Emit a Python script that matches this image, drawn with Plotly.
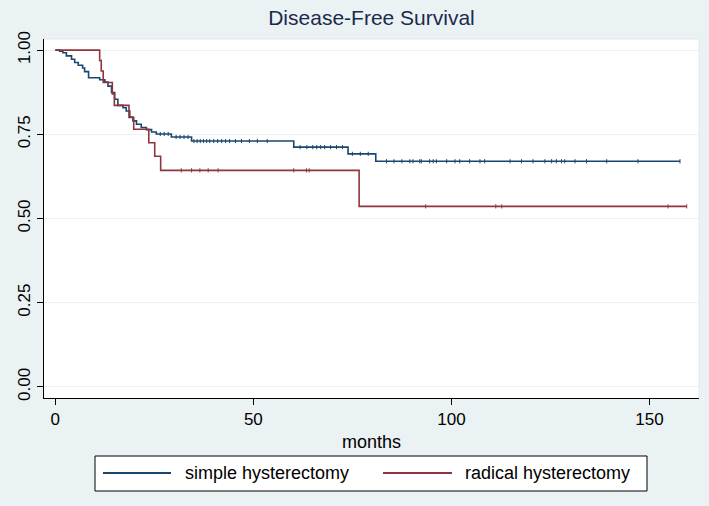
# -*- coding: utf-8 -*-
"""
Kaplan-Meier style disease-free survival plot (simple vs radical hysterectomy).
"""

import numpy as np
import plotly.graph_objects as go

# ---- data ----
simple_event_months = [1.1, 1.9, 2.8, 4.1, 4.9, 5.8, 6.9, 7.4, 8.4, 11.2,
                       12.5, 13.3, 14.2, 15.0, 15.8, 17.1, 17.9, 18.8, 19.6, 20.5,
                       21.7, 23.0, 24.3, 25.5, 29.3, 34.4, 60.2, 73.9, 80.9]
simple_survival = [0.997, 0.992, 0.983, 0.973, 0.963, 0.955, 0.947, 0.936, 0.918, 0.912,
                   0.905, 0.893, 0.874, 0.854, 0.836, 0.829, 0.819, 0.801, 0.790, 0.780,
                   0.770, 0.764, 0.757, 0.751, 0.742, 0.730, 0.712, 0.692, 0.670]
simple_last_month = 157.7
simple_censored = [26.5, 27.5, 28.5, 30.5, 31.5, 32.5, 33.5,
                   35.0, 35.8, 36.6, 37.4, 38.2, 39.0, 40.0, 41.0, 42.0, 43.0, 44.0,
                   45.5, 47.0, 49.0, 51.0, 53.5,
                   61.8, 63.5, 65.0, 66.0, 67.0, 68.0, 69.5, 71.0, 72.5,
                   75.0, 77.0, 79.0,
                   83.6, 85.5, 87.5, 89.5, 90.3, 92.0, 92.4, 94.5, 95.4, 96.2, 98.8,
                   100.9, 102.1, 104.6, 107.2, 108.4, 114.8, 117.7, 120.6, 123.6,
                   125.3, 126.5, 127.8, 128.6, 131.2, 134.1, 139.2, 147.1, 157.7]

radical_event_months = [11.2, 11.6, 12.1, 14.4, 14.9, 18.6, 19.8, 23.6, 25.1, 26.6, 76.7]
radical_survival = [0.969, 0.938, 0.904, 0.870, 0.836, 0.800, 0.765, 0.725, 0.685, 0.643, 0.536]
radical_last_month = 159.4
radical_censored = [31.8, 34.4, 36.5, 38.6, 41.1, 60.2, 63.4, 64.1,
                    93.5, 111.2, 112.7, 154.7, 159.4]

y_ticks = [0, 0.25, 0.5, 0.75, 1.0]
y_tick_labels = ["0.00", "0.25", "0.50", "0.75", "1.00"]
x_ticks = [0, 50, 100, 150]

BLUE = "#1a476f"
RED = "#90353b"
BG = "#eaf2f3"
FONT = "Liberation Sans, Arial, sans-serif"


def step_curve(months, surv, last):
    x = [0] + list(months) + [last]
    y = [1.0] + list(surv) + [surv[-1]]
    return x, y


def survival_at(months, surv, t):
    # value of the step function at each censoring time
    idx = np.searchsorted(np.array(months), np.array(t), side="right")
    vals = np.concatenate([[1.0], surv])
    return vals[idx]


def add_group(fig, months, surv, last, censored, color, name):
    x, y = step_curve(months, surv, last)
    fig.add_trace(go.Scatter(
        x=x, y=y, mode="lines", line=dict(color=color, width=1.6, shape="hv"),
        name=name, showlegend=False, hoverinfo="skip"))
    fig.add_trace(go.Scatter(
        x=censored, y=survival_at(months, surv, censored), mode="markers",
        marker=dict(symbol="line-ns", size=3, line=dict(color=color, width=1)),
        showlegend=False, hoverinfo="skip"))


def px_x(p):
    # pixel -> paper x (plot area 44..699)
    return (p - 44) / 655


def px_y(p):
    # pixel -> paper y (plot area 39..398)
    return (398 - p) / 359


def create_figure():
    fig = go.Figure()
    add_group(fig, simple_event_months, simple_survival, simple_last_month,
              simple_censored, BLUE, "simple hysterectomy")
    add_group(fig, radical_event_months, radical_survival, radical_last_month,
              radical_censored, RED, "radical hysterectomy")

    fig.update_layout(
        width=709, height=506,
        margin=dict(l=44, r=10, t=39, b=108, autoexpand=False),
        paper_bgcolor=BG, plot_bgcolor="white",
        font=dict(family=FONT, size=17, color="black"),
        showlegend=False,
        title=dict(text="Disease-Free Survival", x=0.5, xref="paper",
                   y=1 - 18 / 506, yref="container", xanchor="center", yanchor="middle",
                   font=dict(size=21, color="#1c2a4d")),
        xaxis=dict(range=[-2.85, 162.5], tickvals=x_ticks, ticks="outside", ticklen=6,
                   tickcolor="black", showline=True, linecolor="black", linewidth=1,
                   showgrid=False, zeroline=False, automargin=False,
                   title=dict(text="months", font=dict(size=18), standoff=6)),
        yaxis=dict(range=[-0.033, 1.033], tickvals=y_ticks, ticktext=y_tick_labels,
                   tickangle=-90, ticks="outside", ticklen=6, tickcolor="black",
                   showline=True, linecolor="black", linewidth=1, automargin=False,
                   showgrid=True, gridcolor=BG, gridwidth=1, zeroline=False),
    )

    # faint plot region outline on top/right
    fig.add_shape(type="line", xref="paper", yref="paper", x0=0, x1=1, y0=1, y1=1,
                  line=dict(color="#dfe8ea", width=1))
    fig.add_shape(type="line", xref="paper", yref="paper", x0=1, x1=1, y0=0, y1=1,
                  line=dict(color="#dfe8ea", width=1))

    # legend box drawn by hand, Stata style
    fig.add_shape(type="rect", xref="paper", yref="paper",
                  x0=px_x(95), x1=px_x(647), y0=px_y(491), y1=px_y(456),
                  line=dict(color="black", width=1), fillcolor="white")
    for x0, x1, color in [(103, 171, BLUE), (383, 452, RED)]:
        fig.add_shape(type="line", xref="paper", yref="paper",
                      x0=px_x(x0), x1=px_x(x1), y0=px_y(473), y1=px_y(473),
                      line=dict(color=color, width=2))
    for xs, label in [(183, "simple hysterectomy"), (463, "radical hysterectomy")]:
        fig.add_annotation(text=label, xref="paper", yref="paper", x=px_x(xs), y=px_y(473),
                           xanchor="left", yanchor="middle", showarrow=False,
                           font=dict(size=18, color="black"))
    return fig


def main():
    fig = create_figure()
    # drop the default 8px body margin so the figure fills the window
    fig.write_html("out.html",
                   config={"displayModeBar": False},
                   post_script="document.body.style.margin='0';document.body.style.overflow='hidden';")
    print("[SAVE] out.html written")


if __name__ == "__main__":
    main()
